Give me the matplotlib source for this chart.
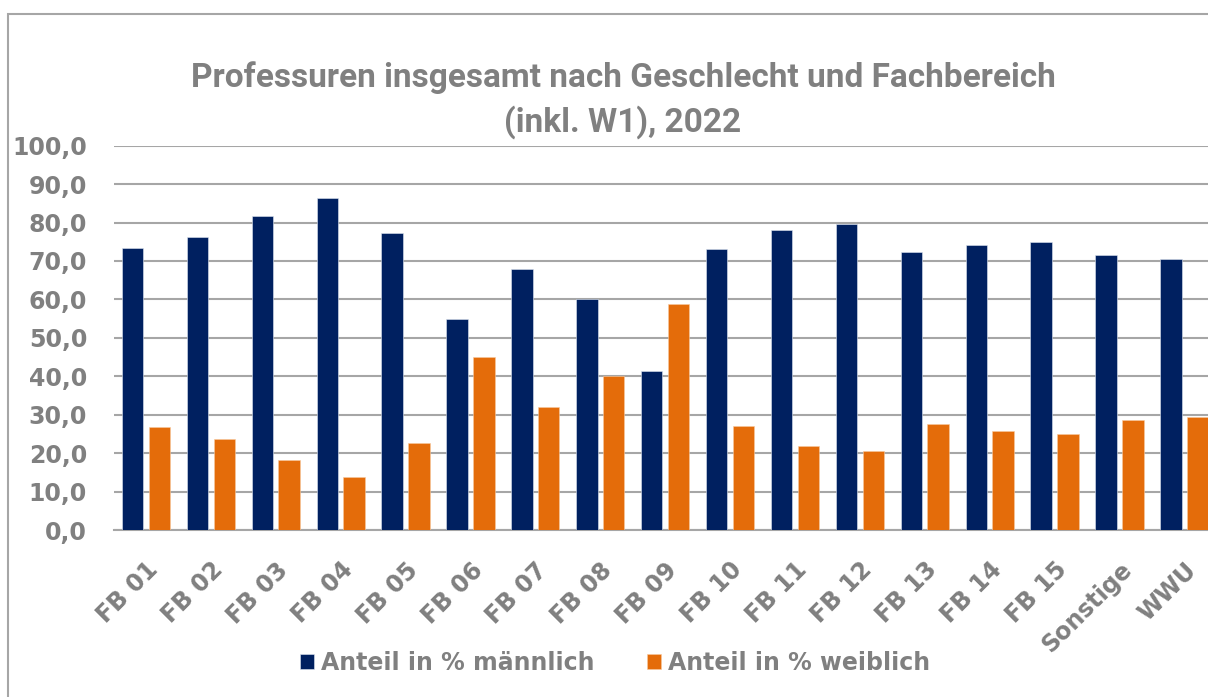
import matplotlib.pyplot as plt
from matplotlib.patches import Rectangle
import numpy as np

# Daten
kategorien = ['FB 01', 'FB 02', 'FB 03', 'FB 04', 'FB 05', 'FB 06', 'FB 07', 'FB 08', 'FB 09',
              'FB 10', 'FB 11', 'FB 12', 'FB 13', 'FB 14', 'FB 15', 'Sonstige', 'WWU']
maennlich = [73.3, 76.2, 81.8, 86.3, 77.4, 54.9, 67.9, 60.0, 41.3,
             73.0, 78.1, 79.5, 72.4, 74.2, 75.0, 71.5, 70.5]
weiblich = [26.7, 23.8, 18.2, 13.7, 22.6, 45.1, 32.1, 40.0, 58.7,
            27.0, 21.9, 20.5, 27.6, 25.8, 25.0, 28.5, 29.5]
y_ticks = np.arange(0, 101, 10)

navy = '#002060'
orange = '#E46C0A'
grau = '#808080'

fig = plt.figure(figsize=(12.08, 6.97), dpi=100)
W, H = 1208, 697

# Rahmen des Diagramms (rechts/unten abgeschnitten)
fig.patches.append(Rectangle((8 / W, -0.1), 1.2, 1.1 - 14 / H,
                             transform=fig.transFigure, fill=False,
                             edgecolor='#A6A6A6', linewidth=1.5))

ax_left = 113.5 / W
ax_bottom = (H - 530) / H
ax_height = (530 - 145.7) / H
ax = fig.add_axes([ax_left, ax_bottom, 1 - ax_left, ax_height])

x = np.arange(len(kategorien))
ax.bar(x - 0.207, maennlich, width=0.33, color=navy, edgecolor='#dfe6f0', linewidth=0.4,
       label='Anteil in % männlich', zorder=3)
ax.bar(x + 0.207, weiblich, width=0.33, color=orange, edgecolor='#f7c9a0', linewidth=0.4,
       label='Anteil in % weiblich', zorder=3)

ax.set_ylim(0, 100)
ax.set_xlim(-0.5, -0.5 + (W - 113.5) / 64.9)
ax.set_yticks(y_ticks)
ax.set_yticklabels([f'{v:.1f}'.replace('.', ',') for v in y_ticks],
                   fontsize=17, fontweight='bold', color=grau, family='DejaVu Sans')
ax.set_xticks(x)
ax.set_xticklabels(kategorien, rotation=45, ha='right', rotation_mode='anchor',
                   fontsize=17, fontweight='bold', color=grau, family='DejaVu Sans')
ax.tick_params(axis='y', length=0, pad=19)
ax.tick_params(axis='x', length=0, pad=20)
ax.grid(axis='y', color='#A6A6A6', linewidth=1.5, zorder=0)
for s in ['top', 'right', 'left']:
    ax.spines[s].set_visible(False)
ax.spines['bottom'].set_color('#A6A6A6')
ax.spines['bottom'].set_linewidth(1.5)

fig.text(623 / W, 1 - 100 / H,
         'Professuren insgesamt nach Geschlecht und Fachbereich\n(inkl. W1), 2022',
         ha='center', va='center', fontsize=24, fontweight='bold', color=grau,
         family='Roboto', linespacing=1.4)

leg = fig.legend(loc='center', bbox_to_anchor=(615 / W, 1 - 663 / H), ncol=2,
                 frameon=False, handlelength=0.6, handleheight=0.6, handletextpad=0.3,
                 columnspacing=2.2, prop={'family': 'DejaVu Sans', 'weight': 'bold', 'size': 17})
for t in leg.get_texts():
    t.set_color(grau)

plt.savefig('out.png', dpi=100)
